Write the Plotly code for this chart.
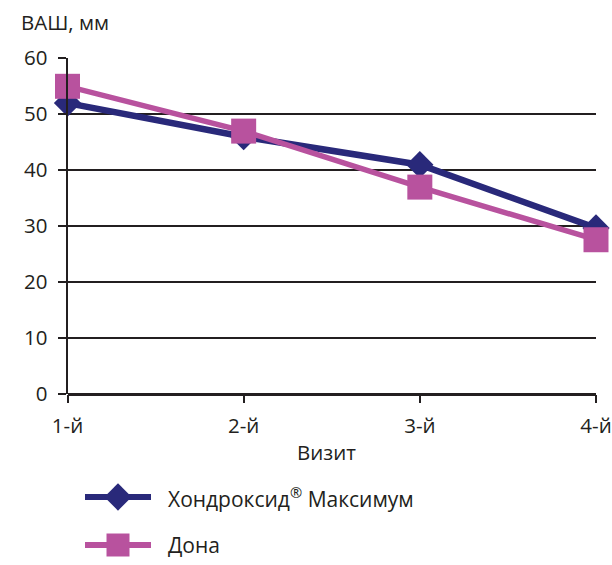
import plotly.graph_objects as go

# Visit categories and pain scores (VAS, mm)
visits = ["1-й", "2-й", "3-й", "4-й"]
hondroxid = [52, 46, 41, 29.7]
dona = [55, 47, 37, 27.6]
y_ticks = [0, 10, 20, 30, 40, 50, 60]

NAVY = "#29297a"
PINK = "#b8529e"
TEXT = "#231f20"
FONT = "Open Sans"
FS = 20.5
W, H = 612, 565

# plot area in pixels
x0, x1 = 67.5, 596
y_top, y_bot = 58.3, 394.3

xpos = list(range(len(visits)))

fig = go.Figure()
fig.add_trace(go.Scatter(
    x=xpos, y=hondroxid, mode="lines+markers", name="Хондроксид® Максимум",
    line=dict(color=NAVY, width=6.5),
    marker=dict(symbol="diamond", size=21, color=NAVY),
    cliponaxis=False, showlegend=False))
fig.add_trace(go.Scatter(
    x=xpos, y=dona, mode="lines+markers", name="Дона",
    line=dict(color=PINK, width=5.5),
    marker=dict(symbol="square", size=25, color=PINK),
    cliponaxis=False, showlegend=False))

# hand-drawn legend on a pixel-coordinate axis covering the whole page
leg_rows = [("Хондроксид<sup>®</sup> Максимум", NAVY, "diamond", 21, 497),
            ("Дона", PINK, "square", 23, 545)]
for label, col, sym, sz, ly in leg_rows:
    fig.add_trace(go.Scatter(
        x=[85, 151], y=[ly, ly], mode="lines", line=dict(color=col, width=6),
        xaxis="x2", yaxis="y2", showlegend=False, hoverinfo="skip"))
    fig.add_trace(go.Scatter(
        x=[118], y=[ly], mode="markers", marker=dict(symbol=sym, size=sz, color=col),
        xaxis="x2", yaxis="y2", showlegend=False, hoverinfo="skip"))
    fig.add_annotation(x=166, y=ly, xref="x2", yref="y2", text=label,
                       showarrow=False, xanchor="left", yanchor="middle",
                       font=dict(family=FONT, size=FS + 0.5, color=TEXT))

fig.add_annotation(x=19, y=22, xref="x2", yref="y2", text="ВАШ, мм",
                   showarrow=False, xanchor="left", yanchor="middle",
                   font=dict(family=FONT, size=FS, color=TEXT))
fig.add_annotation(x=(x0 + x1) / 2 - 5, y=452, xref="x2", yref="y2", text="Визит",
                   showarrow=False, xanchor="center", yanchor="middle",
                   font=dict(family=FONT, size=FS, color=TEXT))

fig.update_layout(
    width=W, height=H,
    margin=dict(l=0, r=0, t=0, b=0, pad=0),
    paper_bgcolor="white", plot_bgcolor="rgba(0,0,0,0)",
    xaxis=dict(
        domain=[x0 / W, x1 / W], range=[0, 3], automargin=False,
        tickvals=xpos, ticktext=visits,
        ticks="outside", ticklen=8, tickwidth=2, tickcolor=TEXT,
        ticklabelstandoff=5,
        showline=False, showgrid=False, zeroline=False,
        tickfont=dict(family=FONT, size=FS, color=TEXT),
    ),
    yaxis=dict(
        domain=[1 - y_bot / H, 1 - y_top / H], range=[0, 60], automargin=False,
        tickvals=y_ticks, ticks="outside", ticklen=8, tickwidth=2,
        tickcolor=TEXT, ticklabelstandoff=6,
        showgrid=True, gridcolor=TEXT, gridwidth=2,
        showline=True, linecolor=TEXT, linewidth=2,
        zeroline=True, zerolinecolor=TEXT, zerolinewidth=2.5,
        tickfont=dict(family=FONT, size=FS, color=TEXT),
    ),
    xaxis2=dict(domain=[0, 1], range=[0, W], visible=False, anchor="y2",
                automargin=False, fixedrange=True),
    yaxis2=dict(domain=[0, 1], range=[H, 0], visible=False, anchor="x2",
                automargin=False, fixedrange=True),
)

fig.write_html("out.html")
